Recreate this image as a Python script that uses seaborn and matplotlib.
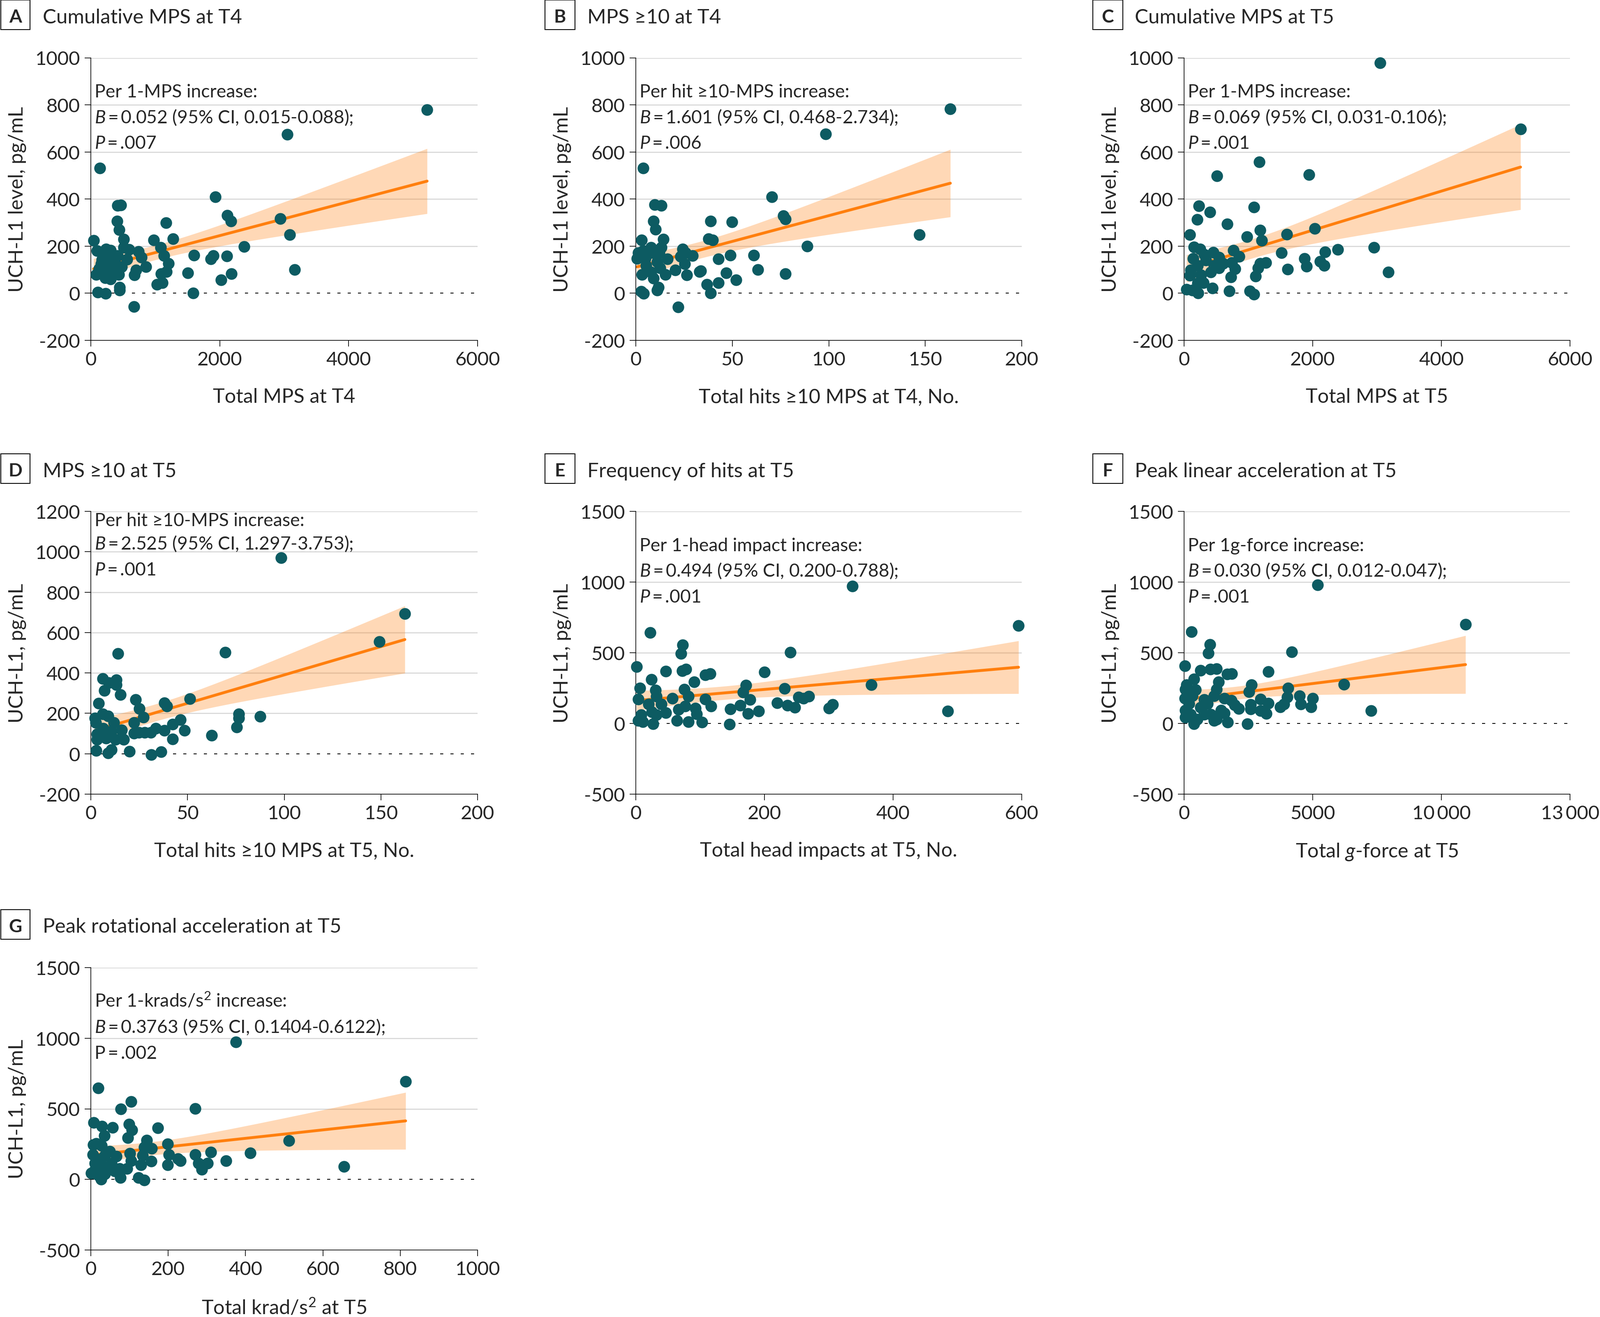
import matplotlib.pyplot as plt
import numpy as np
import seaborn as sns
from matplotlib.patches import Rectangle

# UCH-L1 (pg/mL) against exposure, one list of (x, y) per panel
a_points = [(5217, 779), (3051, 674), (142, 531), (1935, 409), (413, 373), (466, 375), (409, 306),
            (441, 270), (1165, 300), (2115, 330), (2172, 306), (2939, 317), (3083, 248), (42, 225),
            (513, 229), (975, 226), (1276, 231), (2378, 198), (95, 181), (233, 188), (307, 182),
            (513, 194), (593, 185), (742, 177), (784, 153), (1085, 195), (1134, 160), (1600, 162),
            (1897, 160), (1865, 145), (2108, 158), (413, 159), (562, 143), (170, 142), (254, 139),
            (477, 113), (318, 113), (127, 104), (85, 80), (223, 66), (307, 60), (434, 79), (233, 95),
            (699, 98), (678, 78), (852, 113), (1208, 126), (1176, 92), (1091, 83), (1112, 44),
            (1028, 37), (1505, 86), (3162, 101), (2183, 82), (2024, 56), (445, 25), (445, 13),
            (106, 5), (229, -1), (1589, 1), (667, -57), (170, 171), (339, 147), (392, 89), (297, 89),
            (159, 124), (381, 124)]

b_points = [(163, 782), (98.5, 676), (3.9, 531), (147, 248), (22, -58), (70.4, 410), (76.5, 329),
            (77.6, 315), (88.8, 199), (77.6, 82), (38.7, 306), (49.9, 302), (9.9, 376), (13.2, 373),
            (9.1, 307), (10.2, 271), (2.9, 226), (14.3, 230), (13.2, 194), (7.8, 194), (3.8, 180),
            (24.3, 188), (25.8, 171), (29.4, 159), (23.3, 156), (16.4, 145), (0.6, 147), (4.9, 147),
            (11.0, 133), (25.4, 124), (20.4, 98), (12.5, 107), (5.3, 118), (3.1, 80), (9.2, 63),
            (15.3, 80), (7.9, 89), (26.5, 78), (33.0, 92), (33.7, 95), (37.7, 232), (39.8, 226),
            (42.8, 146), (49.0, 161), (61.2, 162), (63.2, 101), (46.9, 87), (52.0, 56), (42.8, 44),
            (36.8, 38), (38.7, 1), (11.0, 13), (11.7, 25), (2.7, 8), (4.0, -1), (1.3, 171),
            (7.8, 171), (12.1, 171)]

c_points = [(3050, 978), (5231, 697), (1167, 558), (1941, 504), (512, 498), (232, 370), (403, 345),
            (207, 313), (1087, 365), (668, 294), (88, 249), (1180, 268), (1205, 224), (976, 239),
            (1596, 251), (2029, 275), (151, 197), (252, 188), (454, 173), (542, 153), (769, 182),
            (857, 156), (139, 147), (340, 141), (605, 127), (744, 130), (794, 104), (1147, 107),
            (1185, 127), (1273, 130), (1114, 72), (726, 69), (1513, 171), (1608, 102), (1871, 147),
            (1903, 115), (2193, 176), (2387, 186), (2118, 136), (2181, 118), (2955, 194), (3176, 90),
            (101, 98), (88, 75), (265, 77), (214, 42), (303, 45), (441, 22), (701, 10), (1021, 10),
            (1089, -4), (38, 16), (126, 13), (219, 0), (466, 118), (214, 118), (416, 89), (542, 107),
            (315, 165)]

d_points = [(98.3, 971), (162.4, 693), (149.3, 555), (14.1, 496), (69.4, 503), (6.1, 371), (13.2, 366),
            (13.2, 342), (9.3, 352), (7.1, 312), (15.2, 293), (4.1, 249), (23.1, 268), (25.1, 223),
            (27.3, 181), (38.1, 251), (39.3, 235), (51.3, 273), (76.6, 196), (76.6, 176), (87.6, 185),
            (75.5, 132), (62.5, 90), (46.3, 169), (42.4, 145), (48.4, 115), (42.4, 72), (38.1, 115),
            (33.5, 125), (31.0, 105), (27.8, 105), (24.9, 105), (22.4, 101), (22.4, 155), (17.1, 71),
            (16.0, 118), (11.8, 155), (8.9, 186), (6.1, 196), (2.5, 155), (2.1, 176), (3.2, 98),
            (3.2, 71), (7.8, 77), (10.7, 111), (12.8, 71), (6.4, 125), (10.7, 20), (8.9, 3),
            (2.8, 16), (19.9, 11), (31.2, -4), (36.3, 10)]

e_points = [(337, 970), (595, 691), (485, 87), (22.2, 643), (72.8, 555), (70.4, 495), (240, 502),
            (1.2, 402), (46.4, 368), (72.3, 371), (77.8, 385), (108, 342), (115.6, 351), (200, 363),
            (24.2, 311), (90.9, 293), (6.2, 250), (30.9, 235), (75.3, 240), (171, 269), (167, 220),
            (231.6, 248), (366, 274), (3.7, 172), (32.1, 191), (56.8, 177), (81.5, 191), (108, 172),
            (116.8, 123), (177.8, 170), (253, 186), (260.5, 177), (269, 191), (220, 145), (235.8, 128),
            (247, 114), (300, 109), (306, 133), (147, 102), (162.5, 128), (174.6, 70), (190.9, 86),
            (92.6, 107), (94.3, 68), (46.9, 75), (66.7, 99), (76.5, 123), (24.7, 80), (8.6, 60),
            (3.7, 21), (11.1, 12), (26.7, -3), (64.2, 21), (81.5, 12), (103, 10), (146, -5),
            (19.8, 138), (39.5, 138), (32.1, 60)]

f_points = [(5193, 980), (10939, 701), (290, 649), (1002, 558), (949, 498), (4191, 506), (26, 407),
            (646, 375), (1015, 383), (1265, 388), (1674, 348), (1858, 353), (3269, 366), (382, 314),
            (1344, 294), (1265, 242), (92, 273), (53, 242), (448, 238), (2623, 273), (2531, 223),
            (4046, 251), (26, 177), (778, 169), (1568, 177), (1832, 162), (1964, 130), (2122, 106),
            (2979, 171), (3282, 143), (2583, 134), (2583, 102), (2979, 91), (3190, 71), (3743, 117),
            (3888, 136), (4007, 186), (4494, 195), (4534, 136), (4995, 177), (4942, 117), (6208, 277),
            (7262, 91), (1568, 74), (1173, 19), (1265, 28), (1700, 9), (2465, -4), (382, -4),
            (53, 43), (250, 65), (646, 112), (909, 139), (1041, 65), (514, 28), (778, 65), (185, 139),
            (316, 195), (1173, 195), (1437, 93), (53, 93)]

g_points = [(375, 974), (814, 694), (18.6, 646), (104, 552), (78, 500), (270, 502), (7.6, 403),
            (28.8, 375), (56.8, 368), (98.3, 392), (106.8, 351), (95.8, 295), (35.6, 310), (172.9, 364),
            (511.9, 274), (198.3, 250), (144, 276), (157.6, 220), (138, 229), (6.8, 244), (13.6, 254),
            (28, 239), (5.1, 175), (36.4, 170), (49.2, 198), (66.1, 164), (100.8, 183), (133.9, 170),
            (201.7, 174), (270.4, 175), (310.2, 194), (411.9, 187), (350, 132), (301.7, 114),
            (278.8, 114), (225.4, 147), (231.4, 132), (199.2, 104), (155.9, 129), (104.2, 132),
            (129.7, 104), (286.5, 71), (655, 90), (74.6, 76), (94, 76), (11, 67), (0.8, 45),
            (19.5, 30), (36.4, 39), (26.3, 2), (76.3, 11), (122.9, 11), (138.1, -4), (11, 114),
            (28, 104), (53.4, 114), (44.9, 86), (19.5, 142), (61.9, 58)]

letters = ["A", "B", "C", "D", "E", "F", "G"]
titles = ["Cumulative MPS at T4", "MPS \u226510 at T4", "Cumulative MPS at T5", "MPS \u226510 at T5",
          "Frequency of hits at T5", "Peak linear acceleration at T5",
          "Peak rotational acceleration at T5"]
xlabels = ["Total MPS at T4", "Total hits \u226510 MPS at T4, No.", "Total MPS at T5",
           "Total hits \u226510 MPS at T5, No.", "Total head impacts at T5, No.",
           "Total $\\mathit{g}$-force at T5", "Total krad/s$^2$ at T5"]
ylabels = ["UCH-L1 level, pg/mL"] * 3 + ["UCH-L1, pg/mL"] * 4

xticks = [[0, 2000, 4000, 6000], [0, 50, 100, 150, 200], [0, 2000, 4000, 6000],
          [0, 50, 100, 150, 200], [0, 200, 400, 600], [0, 5000, 10000, 15000],
          [0, 200, 400, 600, 800, 1000]]
# panel F is printed with 13 000 on its last, evenly spaced tick
xticklabels = [None, None, None, None, None, ["0", "5000", "10\u2009000", "13\u2009000"], None]
yticks = [[-200, 0, 200, 400, 600, 800, 1000]] * 3 + [[-200, 0, 200, 400, 600, 800, 1000, 1200]] \
    + [[-500, 0, 500, 1000, 1500]] * 3

EQ = "\u2009=\u2009"
notes = [
    ["Per 1-MPS increase:", "$\\mathit{B}$" + EQ + "0.052 (95% CI, 0.015-0.088);", "$\\mathit{P}$" + EQ + ".007"],
    ["Per hit \u226510-MPS increase:", "$\\mathit{B}$" + EQ + "1.601 (95% CI, 0.468-2.734);", "$\\mathit{P}$" + EQ + ".006"],
    ["Per 1-MPS increase:", "$\\mathit{B}$" + EQ + "0.069 (95% CI, 0.031-0.106);", "$\\mathit{P}$" + EQ + ".001"],
    ["Per hit \u226510-MPS increase:", "$\\mathit{B}$" + EQ + "2.525 (95% CI, 1.297-3.753);", "$\\mathit{P}$" + EQ + ".001"],
    ["Per 1-head impact increase:", "$\\mathit{B}$" + EQ + "0.494 (95% CI, 0.200-0.788);", "$\\mathit{P}$" + EQ + ".001"],
    ["Per 1g-force increase:", "$\\mathit{B}$" + EQ + "0.030 (95% CI, 0.012-0.047);", "$\\mathit{P}$" + EQ + ".001"],
    ["Per 1-krads/s$^2$ increase:", "$\\mathit{B}$" + EQ + "0.3763 (95% CI, 0.1404-0.6122);", "P" + EQ + ".002"],
]
all_points = [a_points, b_points, c_points, d_points, e_points, f_points, g_points]

# layout in pixels of the 3893 x 3205 canvas
W, H = 3893, 3205
cols = [(221, 1162), (1547, 2486), (2881, 3820)]
rows = [(141.5, 829), (1245, 1933), (2355, 3042)]
grid_pos = [(0, 0), (0, 1), (0, 2), (1, 0), (1, 1), (1, 2), (2, 0)]
box_x = [(2, 73), (1326, 1399), (2659, 2732)]
title_x = [104, 1429, 2761]
box_top = [1, 1105, 2214]
title_base = [57, 1161, 2269]
note_y = [[0.861, 0.769, 0.679]] * 3 + [[0.949, 0.866, 0.775]] + [[0.861, 0.769, 0.679]] * 3

TEAL = "#0d5b62"
ORANGE = "#ff7f0e"
GRID = "#d9d9d9"


def ci_band(xs, ys, n=200):
    # least squares fit with the usual 95% confidence band of the mean
    x = np.asarray(xs, float)
    y = np.asarray(ys, float)
    slope, icpt = np.polyfit(x, y, 1)
    grid = np.linspace(x.min(), x.max(), n)
    resid = y - (icpt + slope * x)
    s = np.sqrt(resid @ resid / (len(x) - 2))
    se = s * np.sqrt(1 / len(x) + (grid - x.mean()) ** 2 / ((x - x.mean()) ** 2).sum())
    fit = icpt + slope * grid
    return grid, fit - 2.0 * se, fit + 2.0 * se


sns.set_style("ticks")
plt.rcParams["font.family"] = ["Lato", "DejaVu Sans"]
plt.rcParams["mathtext.fontset"] = "custom"
plt.rcParams["mathtext.rm"] = "Lato"
plt.rcParams["mathtext.it"] = "Lato:italic"
plt.rcParams["axes.unicode_minus"] = False

fig = plt.figure(figsize=(W / 100, H / 100), dpi=100)

for i, pts in enumerate(all_points):
    r, c = grid_pos[i]
    l, rr = cols[c]
    t, b = rows[r]
    wpx, hpx = rr - l, b - t
    ax = fig.add_axes([l / W, 1 - b / H, wpx / W, hpx / H])

    xs = [p[0] for p in pts]
    ys = [p[1] for p in pts]

    for yt in yticks[i]:
        if yt > 0:
            ax.axhline(yt, color=GRID, lw=2, zorder=0.5)
    ax.axhline(0, color="black", lw=1.5, ls=(0, (3.6, 8.4)), zorder=1)

    grid, lo, hi = ci_band(xs, ys)
    ax.fill_between(grid, lo, hi, color=ORANGE, alpha=0.3, lw=0, zorder=1.5)
    sns.regplot(x=xs, y=ys, ax=ax, scatter=False, ci=None, truncate=True,
                color=ORANGE, line_kws={"lw": 5, "zorder": 2})
    sns.scatterplot(x=xs, y=ys, ax=ax, color=TEAL, s=420, linewidth=0,
                    zorder=3, clip_on=False, legend=False)

    ax.set_xlim(xticks[i][0], xticks[i][-1])
    ax.set_ylim(yticks[i][0], yticks[i][-1])
    ax.set_xticks(xticks[i])
    ax.set_xticklabels(xticklabels[i] or [str(v) for v in xticks[i]])
    ax.set_yticks(yticks[i])
    ax.set_yticklabels([str(v) for v in yticks[i]])
    ax.tick_params(length=11, width=1.2, labelsize=34, pad=8, color="black")
    sns.despine(ax=ax)
    for s in ("left", "bottom"):
        ax.spines[s].set_linewidth(1.2)
        ax.spines[s].set_color("black")

    ax.set_xlabel(xlabels[i], fontsize=35)
    ax.xaxis.set_label_coords(0.5, -115 / hpx)
    ax.set_ylabel(ylabels[i], fontsize=35)
    ax.yaxis.set_label_coords(-157 / wpx, 0.5)

    for line, yy in zip(notes[i], note_y[i]):
        ax.text(0.01, yy, line, transform=ax.transAxes, fontsize=32, va="baseline", ha="left")

    # panel letter box and title
    bx0, bx1 = box_x[c]
    bt = box_top[r]
    fig.add_artist(Rectangle((bx0 / W, 1 - (bt + 72) / H), (bx1 - bx0) / W, 72 / H,
                             transform=fig.transFigure, fill=False, ec="black", lw=1.5))
    fig.text((bx0 + bx1) / 2 / W, 1 - (bt + 54) / H, letters[i], fontsize=32,
             fontweight="bold", ha="center", va="baseline")
    fig.text(title_x[c] / W, 1 - title_base[r] / H, titles[i], fontsize=35.5,
             ha="left", va="baseline")

fig.savefig("out.png", dpi=100, facecolor="white")
